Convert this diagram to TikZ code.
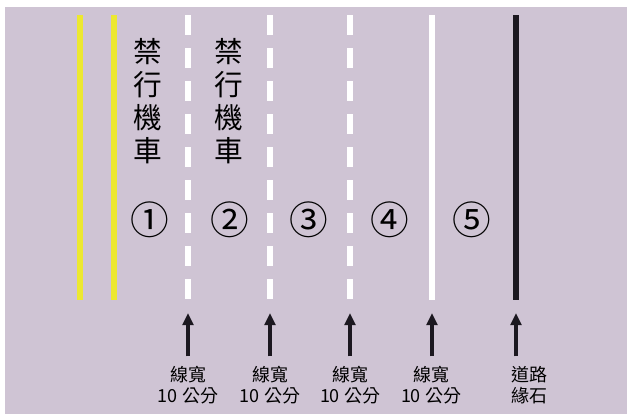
\documentclass[tikz,border=0pt]{standalone}
\usepackage{fontspec}
\newfontfamily\cjk{Noto Sans CJK TC}
\usetikzlibrary{positioning,arrows.meta}
\definecolor{roadbg}{RGB}{207,196,212}
\definecolor{laneyellow}{RGB}{236,232,48}
\definecolor{curbblack}{RGB}{28,24,32}

\begin{document}
\begin{tikzpicture}[x=0.75pt, y=-0.75pt, every node/.style={font=\cjk},
    yellowline/.style={draw=laneyellow, line width=4.2pt},
    dashline/.style={draw=white, line width=4.2pt, dash pattern=on 15pt off 9.75pt},
    solidline/.style={draw=white, line width=4.2pt},
    curbline/.style={draw=curbblack, line width=4.2pt},
    notext/.style={font=\cjk\fontsize{21.5}{24.75}\selectfont, align=center},
    lanenum/.style={font=\cjk\fontsize{29}{29}\selectfont},
    widthtext/.style={font=\cjk\fontsize{13.5}{15.5}\selectfont, align=center},
    uparrow/.style={-{Triangle[length=9pt,width=8pt]}, draw=curbblack, line width=2.7pt, shorten <=4pt}]
    \useasboundingbox (0,0) rectangle (630,414);
    \fill[white] (0,0) rectangle (630,414);
    \fill[roadbg] (5,7) rectangle (627,414);

    % road markings
    \draw[yellowline] (80,15) -- (80,300);
    \draw[yellowline] (114,15) -- (114,300);
    \draw[dashline] (188,15) -- (188,300);
    \draw[dashline] (270,15) -- (270,300);
    \draw[dashline] (350,15) -- (350,300);
    \draw[solidline] (432,15) -- (432,300);
    \draw[curbline] (516,15) -- (516,300);

    % lane texts
    \node[notext] (nomoto1) at (148,101) {禁\\行\\機\\車};
    \node[notext] (nomoto2) at (229,101) {禁\\行\\機\\車};
    \node[lanenum] (lane1) at (150,220) {①};
    \node[lanenum] (lane2) at (230,220) {②};
    \node[lanenum] (lane3) at (309,220) {③};
    \node[lanenum] (lane4) at (390,220) {④};
    \node[lanenum] (lane5) at (472,220) {⑤};

    % arrow tips below the lines
    \coordinate (tip1) at (188,313);
    \coordinate (tip2) at (270,313);
    \coordinate (tip3) at (350,313);
    \coordinate (tip4) at (432,313);
    \coordinate (tip5) at (516,313);

    \node[widthtext] (width1) at (188,385) {線寬\\10 公分};
    \node[widthtext] (width2) at (270,385) {線寬\\10 公分};
    \node[widthtext] (width3) at (350,385) {線寬\\10 公分};
    \node[widthtext] (width4) at (431,385) {線寬\\10 公分};
    \node[widthtext] (curb) at (529,385) {道路\\緣石};

    \draw[uparrow] (width1.north) -- (tip1);
    \draw[uparrow] (width2.north) -- (tip2);
    \draw[uparrow] (width3.north) -- (tip3);
    \draw[uparrow] (width4.north -| tip4) -- (tip4);
    \draw[uparrow] (curb.north -| tip5) -- (tip5);
\end{tikzpicture}
\end{document}
